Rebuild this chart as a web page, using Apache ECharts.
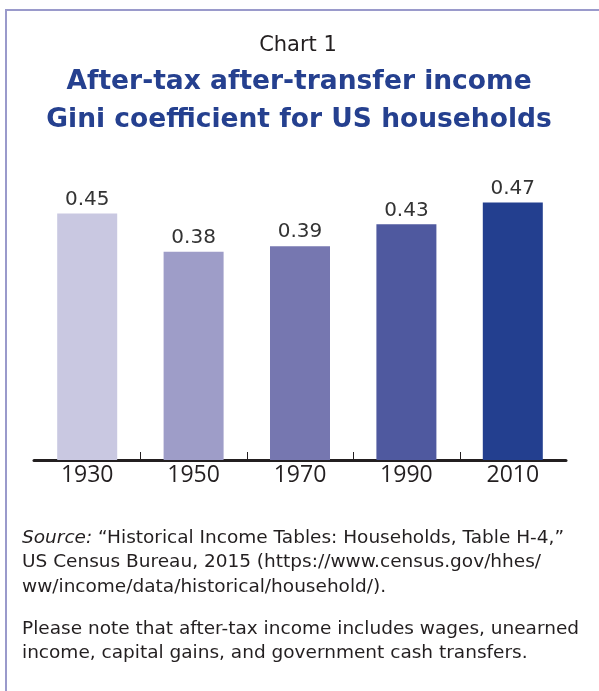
<!DOCTYPE html>
<html>
<head>
<meta charset="utf-8">
<script src="https://cdn.jsdelivr.net/npm/echarts@6/dist/echarts.min.js"></script>
<style>
  html, body { margin: 0; padding: 0; background: #ffffff; }
  #chart { width: 599px; height: 691px; }
</style>
</head>
<body>
<div id="chart"></div>
<script>
// Gini coefficient of after-tax after-transfer income, US households
const years = ['1930', '1950', '1970', '1990', '2010'];
const gini = [0.45, 0.38, 0.39, 0.43, 0.47];
const barColors = ['#c9c8e1', '#9e9dc8', '#7677b0', '#4f599f', '#233f8f'];

const chartLabel = 'Chart 1';
const titleLines = ['After-tax after-transfer income', 'Gini coefficient for US households'];
const sourceLines = [
  ['Source:', ' \u201cHistorical Income Tables: Households, Table H-4,\u201d'],
  ['', 'US Census Bureau, 2015 (https://www.census.gov/hhes/'],
  ['', 'ww/income/data/historical/household/).']
];
const noteLines = [
  'Please note that after-tax income includes wages, unearned',
  'income, capital gains, and government cash transfers.'
];

const chart = echarts.init(document.getElementById('chart'), null, { renderer: 'canvas' });

const bodyFont = 'DejaVu Sans';
const frameColor = '#9a9acb';
const textColor = '#231f20';
const bodySize = 18.5;

const graphics = [
  // frame: left and top rules
  { type: 'line', shape: { x1: 6, y1: 10, x2: 6, y2: 691 }, style: { stroke: frameColor, lineWidth: 2 } },
  { type: 'line', shape: { x1: 5, y1: 10, x2: 599, y2: 10 }, style: { stroke: frameColor, lineWidth: 2 } },
  {
    type: 'text', x: 298, y: 46,
    style: { text: chartLabel, fontFamily: bodyFont, fontSize: 21, fill: textColor, align: 'center', verticalAlign: 'middle' }
  }
];
titleLines.forEach((t, i) => {
  graphics.push({
    type: 'text', x: 299, y: 82 + i * 38,
    style: { text: t, fontFamily: bodyFont, fontSize: 26.5, fontWeight: 'bold', fill: '#25408f', align: 'center', verticalAlign: 'middle' }
  });
});
sourceLines.forEach((parts, i) => {
  graphics.push({
    type: 'text', x: 22, y: 538 + i * 24.5,
    style: {
      text: (parts[0] ? '{it|' + parts[0] + '}' : '') + '{n|' + parts[1] + '}',
      rich: {
        it: { fontFamily: bodyFont, fontStyle: 'italic', fontSize: bodySize, fill: textColor },
        n: { fontFamily: bodyFont, fontSize: bodySize, fill: textColor }
      },
      verticalAlign: 'middle'
    }
  });
});
noteLines.forEach((t, i) => {
  graphics.push({
    type: 'text', x: 22, y: 629 + i * 24.5,
    style: { text: t, fontFamily: bodyFont, fontSize: bodySize, fill: textColor, verticalAlign: 'middle' }
  });
});

chart.setOption({
  animation: false,
  backgroundColor: '#ffffff',
  grid: { left: 34, right: 33, top: 186, bottom: 231, containLabel: false },
  xAxis: {
    type: 'category',
    data: years,
    axisLine: { show: true, lineStyle: { color: textColor, width: 3 } },
    axisTick: { show: false },
    axisLabel: { fontSize: 23, color: textColor, margin: 4, fontFamily: 'Open Sans' }
  },
  yAxis: {
    type: 'value', min: 0, max: 0.5,
    show: false,
    splitLine: { show: false }
  },
  series: [{
    type: 'bar',
    barWidth: 60,
    data: gini.map((v, i) => ({ value: v, itemStyle: { color: barColors[i] } })),
    label: {
      show: true, position: 'top', distance: 4,
      fontSize: 20, color: '#333333', fontFamily: bodyFont,
      formatter: (p) => p.value.toFixed(2)
    }
  }, {
    // short upward ticks between neighbouring categories only
    type: 'custom',
    silent: true,
    z: 5,
    data: years.slice(1).map((y) => [y, 0]),
    renderItem: (params, api) => {
      const p = api.coord([api.value(0), 0]);
      const band = api.size([1, 0])[0];
      const x = Math.round(p[0] - band / 2) + 0.5;
      return {
        type: 'line',
        shape: { x1: x, y1: p[1], x2: x, y2: p[1] - 8 },
        style: { stroke: textColor, lineWidth: 1 }
      };
    }
  }],
  graphic: graphics
});
</script>
</body>
</html>
